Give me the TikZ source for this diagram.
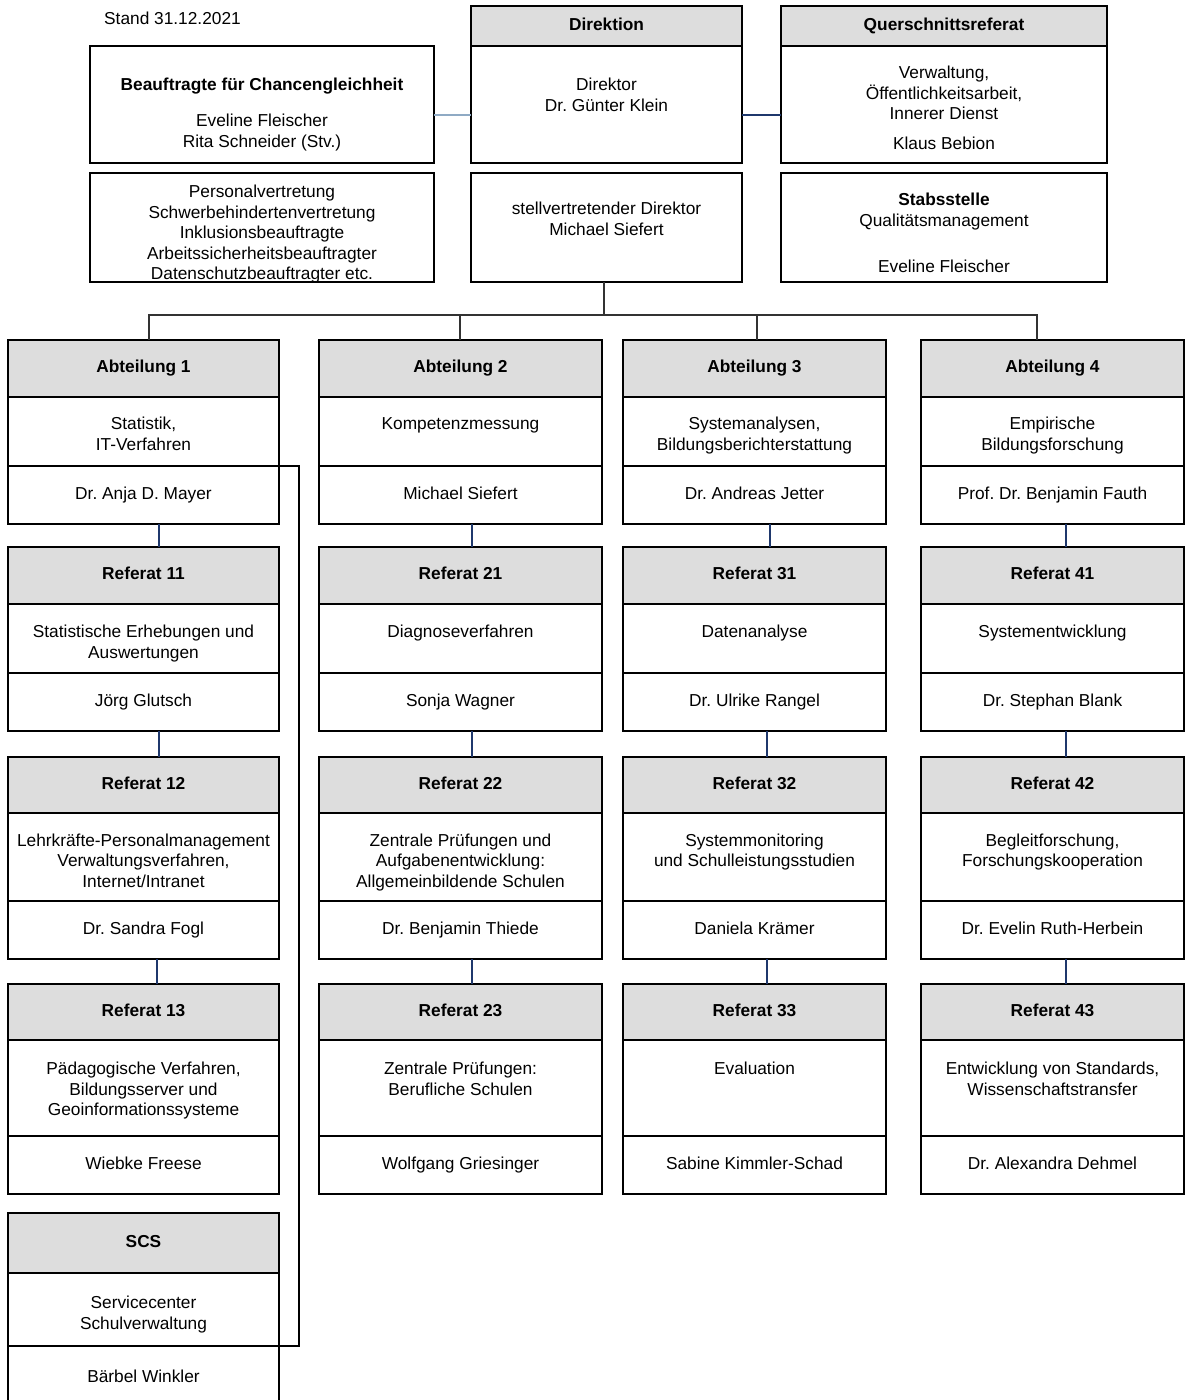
\documentclass[tikz,border=0pt]{standalone}
\usepackage{fontspec}
\setmainfont{Liberation Sans}
\definecolor{hdrgray}{RGB}{221,221,221}
\definecolor{navy}{RGB}{31,56,108}
\definecolor{steel}{RGB}{143,170,196}
\definecolor{bus}{RGB}{50,50,50}
\newcommand{\orgfont}{\fontsize{17.3}{20.5}\selectfont\frenchspacing}
\tikzset{
  box/.style={draw, line width=1.6, inner sep=0, outer sep=0, anchor=north, align=center, text height=12.5, text depth=3.6},
  hdr/.style={box, fill=hdrgray, font=\orgfont\bfseries, minimum height=#1},
  sec/.style={box, minimum height=#1},
  txt/.style={anchor=north, inner sep=0, align=center},
  colA/.style={minimum width=271},
  colB/.style={minimum width=283},
  colC/.style={minimum width=263},
  colD/.style={minimum width=263},
  conn/.style={navy, line width=1.5},
  tree/.style={bus, line width=1.6},
}
\begin{document}
\begin{tikzpicture}[x=1pt,y=1pt,yscale=-1,xscale=1,font=\orgfont]
\useasboundingbox (0,0) rectangle (1185,1400);
\clip (0,0) rectangle (1185,1400);

% Text Node
\node [anchor=west, inner sep=0] (stand) at (104,18) {Stand 31.12.2021};

%Shape: Rectangle -- top row
\node [box, minimum width=344, minimum height=117] (beauf) at (262,46) {};
\node [box, minimum width=344, minimum height=109] (pers) at (262,173) {};
\node [hdr=40, colA] (dirh) at (606.5,6) {Direktion};
\node [sec=117, colA] (dirb) at (dirh.south) {};
\node [sec=109, colA] (stv) at (606.5,173) {};
\node [hdr=40, minimum width=326] (querh) at (944,6) {Querschnittsreferat};
\node [sec=117, minimum width=326] (querb) at (querh.south) {};
\node [sec=109, minimum width=326] (stab) at (944,173) {};

% Text Node
\node [txt] (beauft) at (262,78) {\textbf{Beauftragte für Chancengleichheit}\\[15.5pt]Eveline Fleischer\\Rita Schneider (Stv.)};
\node [txt] (perst) at (262,185) {Personalvertretung\\Schwerbehindertenvertretung\\Inklusionsbeauftragte\\Arbeitssicherheitsbeauftragter\\Datenschutzbeauftragter etc.};
\node [txt] (dirbt) at (606.5,78) {Direktor\\Dr. Günter Klein};
\node [txt] (stvt) at (606.5,202) {stellvertretender Direktor\\Michael Siefert};
\node [txt] (querbt) at (944,66) {Verwaltung,\\Öffentlichkeitsarbeit,\\Innerer Dienst\\[9.5pt]Klaus Bebion};
\node [txt] (stabt) at (944,193) {\textbf{Stabsstelle}\\Qualitätsmanagement\\[25.5pt]Eveline Fleischer};

%Straight Lines -- top links
\draw [steel, line width=2] (beauf.east |- 0,115) -- (dirb.west |- 0,115);
\draw [navy, line width=2.4] (dirb.east |- 0,115) -- (querb.west |- 0,115);

%Shape: Rectangle -- Abteilungen
\node [hdr=57, colA] (a1h) at (143.5,340) {Abteilung 1};
\node [sec=69, colA] (a1m) at (a1h.south) {};
\node [sec=58, colA] (a1n) at (a1m.south) {Dr. Anja D. Mayer};
\node [hdr=57, colB] (a2h) at (460.5,340) {Abteilung 2};
\node [sec=69, colB] (a2m) at (a2h.south) {};
\node [sec=58, colB] (a2n) at (a2m.south) {Michael Siefert};
\node [hdr=57, colC] (a3h) at (754.5,340) {Abteilung 3};
\node [sec=69, colC] (a3m) at (a3h.south) {};
\node [sec=58, colC] (a3n) at (a3m.south) {Dr. Andreas Jetter};
\node [hdr=57, colD] (a4h) at (1052.5,340) {Abteilung 4};
\node [sec=69, colD] (a4m) at (a4h.south) {};
\node [sec=58, colD] (a4n) at (a4m.south) {Prof. Dr. Benjamin Fauth};
% Text Node
\node [txt] (a1t) at (143.5,417) {Statistik,\\IT-Verfahren};
\node [txt] (a2t) at (460.5,417) {Kompetenzmessung};
\node [txt] (a3t) at (754.5,417) {Systemanalysen,\\Bildungsberichterstattung};
\node [txt] (a4t) at (1052.5,417) {Empirische\\Bildungsforschung};

%Shape: Rectangle -- Referate x1
\node [hdr=57, colA] (r11h) at (143.5,547) {Referat 11};
\node [sec=69, colA] (r11m) at (r11h.south) {};
\node [sec=58, colA] (r11n) at (r11m.south) {Jörg Glutsch};
\node [hdr=57, colB] (r21h) at (460.5,547) {Referat 21};
\node [sec=69, colB] (r21m) at (r21h.south) {};
\node [sec=58, colB] (r21n) at (r21m.south) {Sonja Wagner};
\node [hdr=57, colC] (r31h) at (754.5,547) {Referat 31};
\node [sec=69, colC] (r31m) at (r31h.south) {};
\node [sec=58, colC] (r31n) at (r31m.south) {Dr. Ulrike Rangel};
\node [hdr=57, colD] (r41h) at (1052.5,547) {Referat 41};
\node [sec=69, colD] (r41m) at (r41h.south) {};
\node [sec=58, colD] (r41n) at (r41m.south) {Dr. Stephan Blank};
% Text Node
\node [txt] (r11t) at (143.5,625) {Statistische Erhebungen und\\Auswertungen};
\node [txt] (r21t) at (460.5,625) {Diagnoseverfahren};
\node [txt] (r31t) at (754.5,625) {Datenanalyse};
\node [txt] (r41t) at (1052.5,625) {Systementwicklung};

%Shape: Rectangle -- Referate x2
\node [hdr=56, colA] (r12h) at (143.5,757) {Referat 12};
\node [sec=88, colA] (r12m) at (r12h.south) {};
\node [sec=58, colA] (r12n) at (r12m.south) {Dr. Sandra Fogl};
\node [hdr=56, colB] (r22h) at (460.5,757) {Referat 22};
\node [sec=88, colB] (r22m) at (r22h.south) {};
\node [sec=58, colB] (r22n) at (r22m.south) {Dr. Benjamin Thiede};
\node [hdr=56, colC] (r32h) at (754.5,757) {Referat 32};
\node [sec=88, colC] (r32m) at (r32h.south) {};
\node [sec=58, colC] (r32n) at (r32m.south) {Daniela Krämer};
\node [hdr=56, colD] (r42h) at (1052.5,757) {Referat 42};
\node [sec=88, colD] (r42m) at (r42h.south) {};
\node [sec=58, colD] (r42n) at (r42m.south) {Dr. Evelin Ruth-Herbein};
% Text Node
\node [txt] (r12t) at (143.5,833.5) {Lehrkräfte-Personalmanagement\\Verwaltungsverfahren,\\Internet/Intranet};
\node [txt] (r22t) at (460.5,833.5) {Zentrale Prüfungen und\\Aufgabenentwicklung:\\Allgemeinbildende Schulen};
\node [txt] (r32t) at (754.5,833.5) {Systemmonitoring\\und Schulleistungsstudien};
\node [txt] (r42t) at (1052.5,833.5) {Begleitforschung,\\Forschungskooperation};

%Shape: Rectangle -- Referate x3
\node [hdr=56, colA] (r13h) at (143.5,984) {Referat 13};
\node [sec=96, colA] (r13m) at (r13h.south) {};
\node [sec=58, colA] (r13n) at (r13m.south) {Wiebke Freese};
\node [hdr=56, colB] (r23h) at (460.5,984) {Referat 23};
\node [sec=96, colB] (r23m) at (r23h.south) {};
\node [sec=58, colB] (r23n) at (r23m.south) {Wolfgang Griesinger};
\node [hdr=56, colC] (r33h) at (754.5,984) {Referat 33};
\node [sec=96, colC] (r33m) at (r33h.south) {};
\node [sec=58, colC] (r33n) at (r33m.south) {Sabine Kimmler-Schad};
\node [hdr=56, colD] (r43h) at (1052.5,984) {Referat 43};
\node [sec=96, colD] (r43m) at (r43h.south) {};
\node [sec=58, colD] (r43n) at (r43m.south) {Dr. Alexandra Dehmel};
% Text Node
\node [txt] (r13t) at (143.5,1062) {Pädagogische Verfahren,\\Bildungsserver und\\Geoinformationssysteme};
\node [txt] (r23t) at (460.5,1062) {Zentrale Prüfungen:\\Berufliche Schulen};
\node [txt] (r33t) at (754.5,1062) {Evaluation};
\node [txt] (r43t) at (1052.5,1062) {Entwicklung von Standards,\\Wissenschaftstransfer};

%Shape: Rectangle -- SCS
\node [hdr=60, colA] (scsh) at (143.5,1213) {SCS};
\node [sec=73, colA] (scsm) at (scsh.south) {};
\node [sec=64, colA] (scsn) at (scsm.south) {Bärbel Winkler};
% Text Node
\node [txt] (scst) at (143.5,1296) {Servicecenter\\Schulverwaltung};

%Straight Lines -- tree
\draw [tree] ([xshift=-2.5]stv.south) -- ++(0,33);
\draw [tree] ([xshift=5.5]a1h.north) -- ++(0,-25) -| ([xshift=-15.5]a4h.north);
\draw [tree] ([xshift=-0.5]a2h.north) -- ++(0,-25);
\draw [tree] ([xshift=2.5]a3h.north) -- ++(0,-25);

%Straight Lines -- columns
\draw [conn] ([xshift=15.5]a1n.south) -- ([xshift=15.5]r11h.north);
\draw [conn] ([xshift=15.5]r11n.south) -- ([xshift=15.5]r12h.north);
\draw [conn] ([xshift=13.5]r12n.south) -- ([xshift=13.5]r13h.north);
\draw [conn] ([xshift=11.5]a2n.south) -- ([xshift=11.5]r21h.north);
\draw [conn] ([xshift=11.5]r21n.south) -- ([xshift=11.5]r22h.north);
\draw [conn] ([xshift=11.5]r22n.south) -- ([xshift=11.5]r23h.north);
\draw [conn] ([xshift=15.5]a3n.south) -- ([xshift=15.5]r31h.north);
\draw [conn] ([xshift=12.5]r31n.south) -- ([xshift=12.5]r32h.north);
\draw [conn] ([xshift=12.5]r32n.south) -- ([xshift=12.5]r33h.north);
\draw [conn] ([xshift=13.5]a4n.south) -- ([xshift=13.5]r41h.north);
\draw [conn] ([xshift=13.5]r41n.south) -- ([xshift=13.5]r42h.north);
\draw [conn] ([xshift=13.5]r42n.south) -- ([xshift=13.5]r43h.north);

%Straight Lines -- bracket to SCS
\draw [line width=1.6] (a1m.south east) -- ++(20,0) |- (scsm.south east);

\end{tikzpicture}
\end{document}
